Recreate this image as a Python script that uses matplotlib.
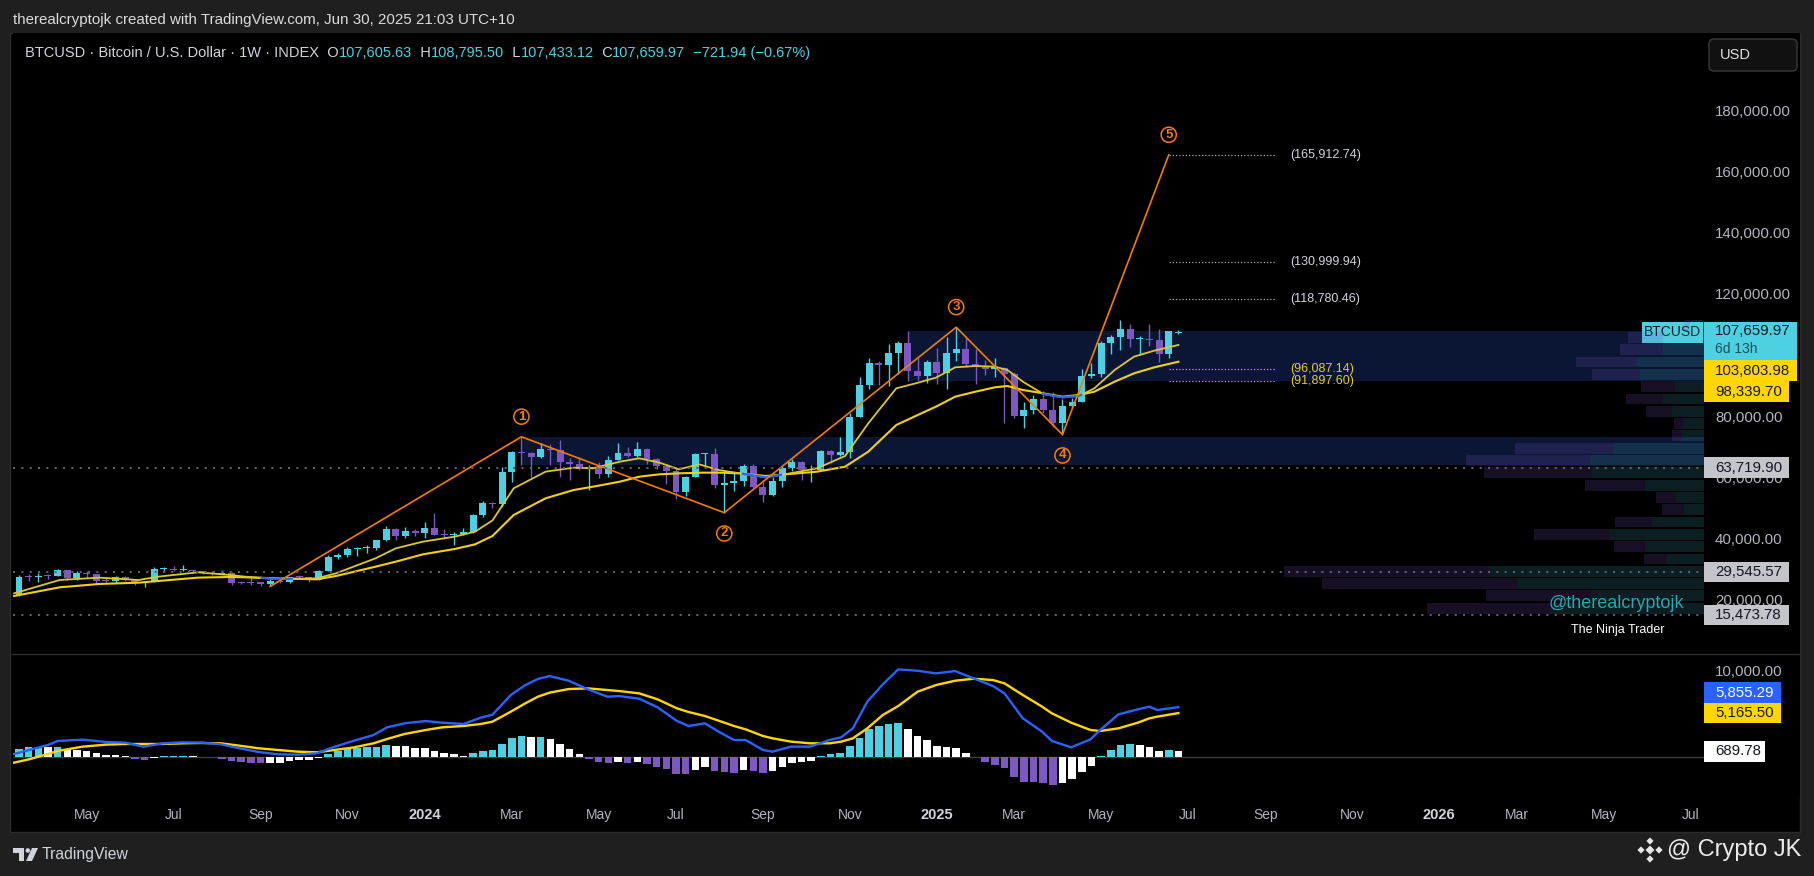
import numpy as np
import pandas as pd
import matplotlib
matplotlib.use("Agg")
import matplotlib.pyplot as plt
from matplotlib import font_manager
from matplotlib.lines import Line2D
from matplotlib.patches import Rectangle, FancyBboxPatch, Polygon, RegularPolygon, Circle
from matplotlib.transforms import IdentityTransform

# ---------------------------------------------------------------- data
# weekly BTCUSD bars, the first one is the week of 13 Mar 2023
week0 = "2023-03-13"

opens = [22100, 28000, 27950, 28450, 28330, 30300, 27600, 29230, 28850, 26800,
         26750, 28080, 27100, 25850, 26340, 30470, 30600, 30170, 30240, 29780,
         29280, 29050, 29290, 26090, 26000, 25850, 25840, 26530, 26250, 27970,
         27920, 27150, 29950, 34530, 35050, 37100, 37380, 37450, 39970, 43790,
         41370, 43000, 42280, 43950, 41720, 41580, 42030, 42580, 48300, 52130,
         51730, 62400, 68950, 68400, 67200, 69650, 69360, 65660, 64940, 63420,
         63900, 61500, 66270, 68500, 67500, 69650, 66660, 64250, 62700, 55850,
         60800, 68150, 68250, 58100, 58700, 59500, 64200, 57300, 54800, 59200,
         63600, 65600, 62800, 62900, 69000, 68000, 68800, 80400, 90600, 97900,
         97300, 101200, 104300, 95200, 93700, 98300, 94500, 101200, 102600, 97700,
         96500, 96100, 96300, 94300, 80700, 82600, 86100, 82400, 78400, 83700,
         85200, 93750, 94300, 104600, 106500, 109000, 105600, 105750, 105500, 100900,
         107605.63]
highs = [28500, 28900, 29200, 28800, 30500, 30400, 30000, 29800, 29000, 27600,
         28400, 28450, 27400, 26800, 31400, 31400, 31500, 31800, 30400, 29900,
         29800, 30200, 29450, 26800, 28100, 26400, 27300, 27450, 28100, 28600,
         28000, 30300, 35200, 35900, 37900, 37900, 38400, 40000, 44700, 44000,
         44300, 43800, 45900, 49000, 43500, 42600, 43900, 48600, 52800, 52500,
         64000, 69200, 73800, 68900, 71800, 71300, 72800, 66900, 67200, 64700,
         65500, 67400, 71900, 70600, 71950, 70200, 66900, 64500, 63800, 61000,
         68400, 68500, 70000, 62700, 61800, 65000, 64900, 59800, 60600, 64100,
         66500, 66000, 64500, 69500, 69500, 73600, 81500, 93400, 99600, 98700,
         104000, 105200, 108300, 99900, 99000, 102700, 106400, 109600, 106400, 102500,
         98800, 99500, 96500, 95000, 85300, 87400, 88800, 88500, 86100, 86500,
         95800, 97900, 105000, 107100, 111900, 110700, 106800, 110500, 108900, 108500,
         108795.50]
lows = [21900, 26600, 26500, 27200, 28200, 27100, 26900, 27700, 25800, 26300,
        26100, 26600, 25400, 24800, 26250, 29500, 29800, 29900, 29600, 28900,
        28600, 28800, 25200, 25800, 25500, 24900, 24900, 26000, 26000, 27200,
        26500, 26900, 29900, 33900, 34500, 34800, 35700, 36800, 39900, 40200,
        40600, 41400, 40800, 41600, 40300, 38500, 41800, 42300, 47700, 50600,
        50900, 59000, 64500, 60800, 66800, 64500, 60700, 59600, 62800, 56500,
        60200, 60800, 66100, 67100, 67300, 65000, 63400, 58400, 53500, 54300,
        60600, 63500, 57100, 49000, 56100, 57800, 57200, 52600, 54600, 57500,
        62700, 59800, 58900, 62600, 65100, 67500, 66800, 80200, 89400, 90800,
        90500, 94200, 92100, 92500, 91500, 91200, 89300, 98500, 96500, 91200,
        94100, 93400, 78200, 80000, 76600, 81200, 81600, 77000, 74500, 83100,
        85100, 92900, 93400, 100800, 102100, 103100, 100400, 103400, 98200, 99600,
        107433.12]
closes = [28000, 27950, 28450, 28330, 30300, 27600, 29230, 28850, 26800, 26750,
          28080, 27100, 25850, 26340, 30470, 30600, 30170, 30240, 29780, 29280,
          29050, 29290, 26090, 26000, 25850, 25840, 26530, 26250, 27970, 27920,
          27150, 29950, 34530, 35050, 37100, 37380, 37450, 39970, 43790, 41370,
          43000, 42280, 43950, 41720, 41580, 42030, 42580, 48300, 52130, 51730,
          62400, 68950, 68400, 67200, 69650, 69360, 65660, 64940, 63420, 63900,
          61500, 66270, 68500, 67500, 69650, 66660, 64250, 62700, 55850, 60800,
          68150, 68250, 58100, 58700, 59500, 64200, 57300, 54800, 59200, 63600,
          65600, 62800, 62900, 69000, 68000, 68800, 80400, 90600, 97900, 97300,
          101200, 104300, 95200, 93700, 98300, 94500, 101200, 102600, 97700, 96500,
          96100, 96300, 94300, 80700, 82600, 86100, 82400, 78400, 83700, 85200,
          93750, 94300, 104600, 106500, 109000, 105600, 105750, 105500, 100900, 108381.91,
          107659.97]

# two moving averages (bar position, value)
ma_x = [-0.5, 4.2, 8.3, 12.4, 14.4, 18.5, 21.8, 23.4, 26.7, 30.8, 32.8, 36.9, 39.0,
        41.8, 45.1, 47.2, 49.0, 51.2, 54.5, 57.4, 59.4, 62.2, 64.2, 66.3, 68.3, 70.4,
        72.4, 74.5, 77.3, 79.8, 82.6, 85.5, 87.9, 90.8, 92.8, 94.9, 96.9, 99.0, 101.0,
        102.3, 103.9, 106.0, 108.0, 109.7, 111.3, 113.4, 115.4, 117.5, 120]
ma_fast = [22640, 27000, 27760, 27000, 28080, 29500, 28630, 28080, 27320, 27540, 29170,
           34080, 37350, 39520, 41160, 42790, 46440, 56950, 62400, 63700, 63490, 65670,
           66760, 65340, 63160, 64790, 62940, 61900, 60550, 61850, 63490, 67520, 78190,
           89630, 91260, 93120, 96490, 96930, 96710, 95620, 91810, 87800, 86690, 87130,
           89630, 95620, 99980, 101940, 103803.98]
ma_slow = [21770, 24600, 25690, 26120, 26670, 27760, 27980, 27870, 27540, 27210, 28300,
           31350, 32990, 35380, 37130, 38650, 41370, 48240, 53680, 56400, 57490, 59130,
           60760, 61530, 61850, 62070, 62070, 61850, 60980, 61640, 62400, 64030, 68930,
           77650, 80590, 83640, 86910, 88540, 89960, 90390, 89090, 88000, 86910, 87450,
           88540, 91810, 94530, 96490, 98339.70]

# elliott count drawn on the chart
wave_x = [26, 52, 73, 97, 108, 119]
wave_y = [24900, 73800, 49000, 109600, 74500, 165912.74]
fib_levels = [165912.74, 130999.94, 118780.46, 96087.14, 91897.60]

# order-block zones
zone_start = [52, 92]
zone_low = [64500, 92100]
zone_high = [73800, 108300]

# horizontal levels
key_levels = [63719.90, 29545.57, 15473.78]

# visible range volume profile, 24 rows from the bottom
vp_bin_low = 15780
vp_bin_size = 4021
vp_up = [153, 113, 186, 215, 38, 59, 94, 52, 20, 28, 59, 112,
         114, 91, 22, 21, 32, 41, 29, 64, 67, 41, 41, 14]
vp_down = [124, 105, 196, 205, 22, 31, 76, 37, 22, 20, 60, 108,
           124, 98, 10, 9, 26, 37, 34, 48, 61, 43, 35, 6]

# MACD pane
macd_x = [-0.5, 1.05, 3.0, 4.0, 6.6, 9.0, 11.0, 12.9, 14.9, 16.9, 18.9, 20.9, 22.8,
          24.8, 26.8, 28.8, 30.8, 32.7, 34.7, 36.7, 38.1, 39.9, 42.1, 43.8, 46.0, 47.8,
          49.0, 50.9, 52.4, 53.7, 54.9, 56.9, 58.9, 60.9, 62.1, 64.2, 66.1, 68.1, 69.3,
          71.0, 72.4, 74.0, 75.2, 77.0, 78.0, 79.9, 81.9, 83.9, 85.1, 86.3, 87.8, 89.4,
          91.0, 93.0, 94.9, 96.9, 98.8, 100.8, 102.0, 103.9, 105.9, 106.9, 108.9, 110.9,
          111.9, 113.8, 115.8, 117.0, 117.8, 120]
macd_line = [389, 856, 1439, 1906, 2062, 1789, 1712, 1245, 1634, 1750, 1712, 1517, 1050,
             622, 350, 311, 467, 1245, 1945, 2606, 3501, 3968, 4240, 4046, 3890, 4629,
             4979, 7274, 8441, 9142, 9492, 8947, 7936, 7080, 7158, 6846, 5835, 4240, 3657,
             3968, 2995, 2023, 2023, 856, 661, 1245, 1245, 2023, 2334, 3384, 6496, 8519,
             10270, 10114, 9803, 10075, 9220, 8325, 7469, 4551, 2995, 1906, 1167, 2101,
             3190, 5018, 5602, 5913, 5524, 5855.29]
signal_line = [-622, -233, 389, 739, 1245, 1478, 1556, 1556, 1556, 1634, 1673, 1634, 1362,
               1050, 856, 661, 584, 856, 1167, 1634, 2140, 2723, 3190, 3501, 3657, 3890,
               4162, 5329, 6302, 7080, 7547, 7975, 8052, 7858, 7741, 7469, 6769, 5718, 5290,
               4824, 4279, 3657, 3268, 2490, 2217, 1828, 1634, 1634, 1828, 2217, 3384, 4940,
               5990, 7664, 8441, 8947, 9180, 9025, 8636, 7274, 5913, 5135, 4046, 3190,
               3073, 3384, 4046, 4551, 4746, 5165.50]
hist = [1010, 1170, 1245, 1167, 1206, 934, 895, 739, 506, 272,
        233, 156, -195, -311, -78, 156, 175, 195, 156, 78,
        39, -156, -428, -545, -622, -700, -661, -642, -428, -331,
        -311, -78, 428, 739, 973, 1128, 1148, 1245, 1439, 1323,
        1303, 1089, 1070, 739, 506, 389, 156, 506, 739, 856,
        1556, 2256, 2490, 2373, 2392, 2140, 1556, 973, 389, -156,
        -603, -622, -545, -622, -545, -778, -1089, -1362, -1906, -1926,
        -1478, -1128, -1556, -1712, -1828, -1478, -1556, -1828, -1595, -1128,
        -661, -545, -389, 156, 389, 506, 1323, 2295, 3345, 3657,
        3890, 4007, 3307, 2490, 2023, 1323, 1206, 1089, 506, 20,
        -545, -895, -1245, -2295, -2879, -2898, -2995, -3229, -2995, -2529,
        -1712, -1011, 156, 856, 1439, 1556, 1439, 1206, 739, 856,
        689.78]

# ---------------------------------------------------------------- style
W, H = 1814, 876
BG = "#1f1f1f"
TXT = "#d1d4dc"
AXTXT = "#b2b5be"
DARK = "#131722"
CYAN = "#4dd0e1"
PURPLE = "#7e57c2"
ORANGE = "#f57c00"
ZONE = "#0a1634"
BLUE = "#2962ff"
YELLOW = "#ffd600"

P_LO, P_HI = 3137, 205752
M_LO, M_HI = -4638, 12068
X_LO, X_HI = -0.62, 174.4


def installed(name):
    try:
        font_manager.findfont(name, fallback_to_default=False)
        return True
    except ValueError:
        return False


FONT = "Liberation Sans" if installed("Liberation Sans") else "DejaVu Sans"
plt.rcParams["font.family"] = [FONT, "DejaVu Sans"]

fig = plt.figure(figsize=(W / 100, H / 100), dpi=100, facecolor=BG)


def rect(x0, y0, x1, y1):
    # pixel box (top-left origin) -> figure fraction
    return [x0 / W, 1 - y1 / H, (x1 - x0) / W, (y1 - y0) / H]


def fpos(x, y):
    return x / W, 1 - y / H


# black chart panel
fig.add_artist(Rectangle((10 / W, 1 - 832 / H), 1790 / W, 799 / H, transform=fig.transFigure,
                         facecolor="black", edgecolor="#2c2c2c", lw=1, zorder=-1))

ax = fig.add_axes(rect(13, 33, 1704, 653))
axm = fig.add_axes(rect(13, 654, 1704, 797))
axp = fig.add_axes(rect(1704, 33, 1800, 653))
axmp = fig.add_axes(rect(1704, 654, 1800, 797))
for a in (ax, axm, axp, axmp):
    a.set_facecolor("black")
    a.set_xticks([])
    a.set_yticks([])
    for s in a.spines.values():
        s.set_visible(False)

ax.set_xlim(X_LO, X_HI)
ax.set_ylim(P_LO, P_HI)
axm.set_xlim(X_LO, X_HI)
axm.set_ylim(M_LO, M_HI)
axp.set_xlim(0, 96)
axp.set_ylim(P_LO, P_HI)
axmp.set_xlim(0, 96)
axmp.set_ylim(M_LO, M_HI)

fig.add_artist(Line2D([12 / W, 1800 / W], [1 - 653.5 / H] * 2, color="#2e2e2e", lw=1))

# ---------------------------------------------------------------- price pane
x = np.arange(len(closes))
o, h, l, c = map(np.array, (opens, highs, lows, closes))
col = np.where(c >= o, CYAN, PURPLE)

for xs, lo, hi in zip(zone_start, zone_low, zone_high):
    ax.add_patch(Rectangle((xs, lo), X_HI - xs, hi - lo, facecolor=ZONE, edgecolor="none", zorder=1))

ax.vlines(x, l, h, colors=col, lw=1.0, zorder=4)
ax.bar(x, np.maximum(np.abs(c - o), 350), bottom=np.minimum(o, c), width=0.72,
       color=col, lw=0, zorder=5)

ax.plot(ma_x, ma_slow, color="#f2d20c", lw=1.5, zorder=6)
ax.plot(ma_x, ma_fast, color="#dcc82a", lw=1.3, zorder=6)

# fast average turns blue while it sits under the slow one
fxa, ffa, fsa = np.array(ma_x), np.array(ma_fast), np.array(ma_slow)
d = ffa - fsa
for k in range(len(fxa) - 1):
    d0, d1 = d[k], d[k + 1]
    if d0 >= 0 and d1 >= 0:
        continue
    ta, tb = 0.0, 1.0
    if d0 >= 0:
        ta = d0 / (d0 - d1)
    if d1 >= 0:
        tb = d0 / (d0 - d1)
    xa, xb, ya, yb = fxa[k], fxa[k + 1], ffa[k], ffa[k + 1]
    ax.plot([xa + ta * (xb - xa), xa + tb * (xb - xa)],
            [ya + ta * (yb - ya), ya + tb * (yb - ya)],
            color=BLUE, lw=1.6, zorder=6.5, solid_capstyle="butt")

# wave count
ax.plot(wave_x, wave_y, color=ORANGE, lw=1.2, zorder=7)
for k in range(1, len(wave_x)):
    ax.annotate(str(k), (wave_x[k], wave_y[k]), xytext=(0, 14.5 if k % 2 else -15),
                textcoords="offset points", ha="center", va="center", color=ORANGE,
                fontsize=9.5, fontweight="bold", zorder=8,
                bbox=dict(boxstyle="circle,pad=0.12", fc="none", ec=ORANGE, lw=1.1))

fib_x0 = wave_x[-1]
fib_x1 = fib_x0 + 11.1
fib_colors = ["#a9abb5", "#a9abb5", "#a9abb5", "#cdb418", "#cdb418"]
fib_text = ["#d1d4dc", "#d1d4dc", "#d1d4dc", "#e6cc1e", "#e6cc1e"]
for lvl, lc, tc in zip(fib_levels, fib_colors, fib_text):
    ax.hlines(lvl, fib_x0, fib_x1, colors=lc, lw=0.9, linestyles=(0, (1, 1.6)), zorder=6)
    ax.text(fib_x1 + 1.5, lvl, f"({lvl:,.2f})", color=tc, fontsize=9, va="center", ha="left", zorder=8)

# volume profile on its own x scale (1 unit = 1 px, growing leftwards)
vp = ax.twiny()
vp.set_xlim(1691, 0)
vp.axis("off")
centers = vp_bin_low + (np.arange(len(vp_up)) + 0.5) * vp_bin_size
vp.barh(centers, vp_up, height=vp_bin_size * 0.88, left=0, color=CYAN, alpha=0.15, lw=0)
vp.barh(centers, vp_down, height=vp_bin_size * 0.88, left=vp_up, color=PURPLE, alpha=0.19, lw=0)
for lvl in key_levels:
    vp.axhline(lvl, color="#5d606b", lw=1.5, ls=(0, (1, 3)), zorder=3)

# ---------------------------------------------------------------- price axis
UPP = (P_HI - P_LO) / 620.0
for p in range(20000, 180001, 20000):
    axp.text(11, p, f"{p:,.2f}", color=AXTXT, fontsize=10.8, va="center", ha="left", zorder=2)


def tag(a, yc, hgt, txt, bg, fg, width=None):
    w = width if width is not None else 12 + 8.1 * len(txt)
    a.add_patch(Rectangle((0, yc - hgt / 2), w, hgt, facecolor=bg, edgecolor="none",
                          zorder=5, clip_on=False))
    a.text(11, yc, txt, color=fg, fontsize=10.8, va="center", ha="left", zorder=6, clip_on=False)


for lvl in key_levels:
    tag(axp, lvl, 20.5 * UPP, f"{lvl:,.2f}", "#c3c5cb", DARK)

cur = closes[-1]
top, bot = cur + 11 * UPP, cur - 27 * UPP
axp.add_patch(Rectangle((0, bot), 93, top - bot, facecolor=CYAN, edgecolor="none", zorder=5, clip_on=False))
axp.text(11, cur + 2.5 * UPP, f"{cur:,.2f}", color=DARK, fontsize=10.8, va="center", zorder=6)
axp.text(11, cur - 16 * UPP, "6d 13h", color="#1f4f57", fontsize=10, va="center", zorder=6)
axp.add_patch(Rectangle((-62, cur - 9.5 * UPP), 61, 20.5 * UPP, facecolor=CYAN, edgecolor="none",
                        zorder=5, clip_on=False))
axp.text(-31.5, cur + 1 * UPP, "BTCUSD", color=DARK, fontsize=10, va="center", ha="center",
         zorder=6, clip_on=False)

hh = 21 * UPP
floor = bot
for val in (ma_fast[-1], ma_slow[-1]):
    yc = min(val, floor - hh / 2)
    tag(axp, yc, hh, f"{val:,.2f}", YELLOW, DARK)
    floor = yc - hh / 2

# ---------------------------------------------------------------- MACD pane
hv = np.array(hist)
prev = np.r_[hv[0] - 1, hv[:-1]]
hcol = [(CYAN if v >= p else "white") if v >= 0 else (PURPLE if v < p else "white")
        for v, p in zip(hv, prev)]
axm.axhline(0, color="#3d3d3d", lw=1, zorder=1)
axm.bar(x, hv, width=0.78, color=hcol, lw=0, zorder=2)
axm.plot(macd_x, signal_line, color=YELLOW, lw=1.7, zorder=3)
axm.plot(macd_x, macd_line, color=BLUE, lw=1.7, zorder=4)

MUPP = (M_HI - M_LO) / 143.0
mh = 20.5 * MUPP
axmp.text(11, 10000, "10,000.00", color=AXTXT, fontsize=10.8, va="center", zorder=2)
sig_c = signal_line[-1]
tag(axmp, sig_c, mh, f"{signal_line[-1]:,.2f}", YELLOW, DARK)
tag(axmp, max(macd_line[-1], sig_c + mh), mh, f"{macd_line[-1]:,.2f}", BLUE, "white")
tag(axmp, hist[-1], mh, f"{hist[-1]:,.2f}", "white", DARK)

# ---------------------------------------------------------------- time axis
t0 = pd.Timestamp(week0)
for m in pd.date_range("2023-05-01", "2026-07-01", freq="2MS"):
    first_monday = m + pd.Timedelta(days=(7 - m.weekday()) % 7)
    pos = (first_monday - t0).days / 7
    if m.month == 1:
        axm.text(pos, -0.126, str(m.year), transform=axm.get_xaxis_transform(), color=TXT,
                 fontsize=10.5, fontweight="bold", ha="center", va="center", clip_on=False)
    else:
        axm.text(pos, -0.126, m.strftime("%b"), transform=axm.get_xaxis_transform(), color=AXTXT,
                 fontsize=10, ha="center", va="center", clip_on=False)

# ---------------------------------------------------------------- header and legend
fig.text(*fpos(13, 20), "therealcryptojk created with TradingView.com, Jun 30, 2025 21:03 UTC+10",
         color="#dcdcdc", fontsize=10.9, va="center", ha="left")

chg = closes[-1] - closes[-2]
pct = chg / closes[-2] * 100
pieces = [("BTCUSD · Bitcoin / U.S. Dollar · 1W · INDEX", TXT),
          ("  O", TXT), (f"{opens[-1]:,.2f}", CYAN),
          ("  H", TXT), (f"{highs[-1]:,.2f}", CYAN),
          ("  L", TXT), (f"{lows[-1]:,.2f}", CYAN),
          ("  C", TXT), (f"{closes[-1]:,.2f}", CYAN),
          (f"  {chg:,.2f} ({pct:.2f}%)".replace("-", "\u2212"), CYAN)]
prev_t = fig.text(*fpos(25, 53), pieces[0][0], color=pieces[0][1], fontsize=10.5, va="center", ha="left")
for s, cc in pieces[1:]:
    prev_t = ax.annotate(s, xy=(1, 0), xycoords=prev_t, va="bottom", ha="left", color=cc,
                         fontsize=10.5, annotation_clip=False)

fig.add_artist(FancyBboxPatch((1709, H - 71), 88, 32, boxstyle="round,pad=0,rounding_size=5",
                              transform=IdentityTransform(), facecolor="#111111",
                              edgecolor="#3a3a3a", lw=1))
fig.text(*fpos(1720, 55), "USD", color="#e0e0e0", fontsize=10.5, va="center", ha="left")

# watermark
fig.text(*fpos(1549, 604), "@therealcryptojk", color="#2aa7b5", fontsize=13, va="center", ha="left")
fig.text(*fpos(1571, 630), "The Ninja Trader", color="white", fontsize=9, va="center", ha="left")

# ---------------------------------------------------------------- footer
idt = IdentityTransform()
logo = "#d1d4dc"
fig.add_artist(Polygon([(13, H - 848), (24, H - 848), (24, H - 861), (19, H - 861),
                        (19, H - 853), (13, H - 853)], closed=True, transform=idt, fc=logo, ec="none"))
fig.add_artist(Circle((27.8, H - 850.5), 2.3, transform=idt, fc=logo, ec="none"))
fig.add_artist(Polygon([(32, H - 848), (38, H - 848), (32, H - 861), (26, H - 861)],
                       closed=True, transform=idt, fc=logo, ec="none"))
fig.text(*fpos(42, 855), "TradingView", color=logo, fontsize=11.3, va="center", ha="left")

bx, by = 1650, H - 850
for dx, dy, r in [(0, 0, 4.5), (0, 9, 3.6), (0, -9, 3.6), (-9, 0, 3.6), (9, 0, 3.6)]:
    fig.add_artist(RegularPolygon((bx + dx, by + dy), 4, radius=r, orientation=0,
                                  transform=idt, fc="#e6e6e6", ec="none"))
fig.text(*fpos(1667, 850), "@ Crypto JK", color="#ececec", fontsize=17, va="center", ha="left")

fig.savefig("out.png", dpi=100, facecolor=BG)
